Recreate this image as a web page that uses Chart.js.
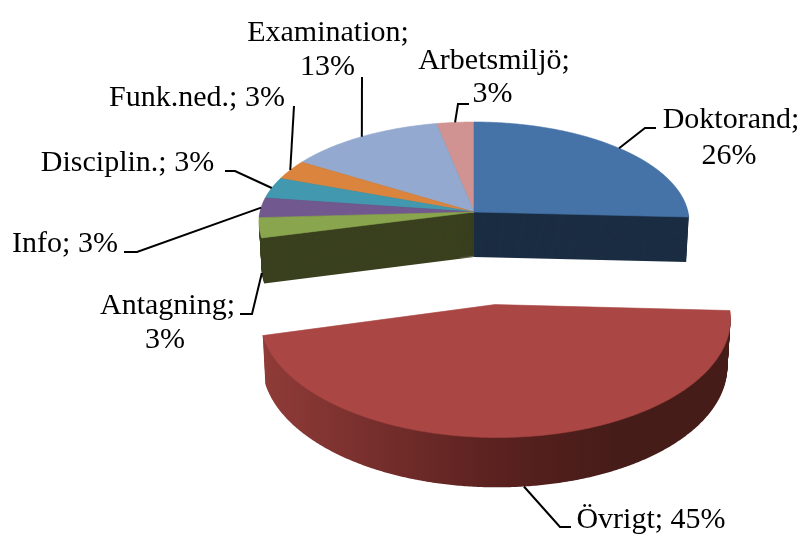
<!DOCTYPE html>
<html lang="sv">
<head>
  <meta charset="UTF-8" />
  <title>Ärenden</title>
  <style>
    html, body { margin: 0; background: #ffffff; }
    #wrap { width: 805px; height: 534px; }
  </style>
</head>
<body>
  <div id="wrap"><canvas id="pie" width="805" height="534"></canvas></div>

  <script src="https://cdn.jsdelivr.net/npm/chart.js@4"></script>
  <script>
    // Data (slice sizes estimated, the labels round them)
    const categories = ['Doktorand', 'Övrigt', 'Antagning', 'Info', 'Disciplin.', 'Funk.ned.', 'Examination', 'Arbetsmiljö'];
    const shares = [25.8, 45.1, 3.2, 3.2, 3.4, 3.2, 13.0, 3.1];
    const percentLabels = ['26%', '45%', '3%', '3%', '3%', '3%', '13%', '3%'];
    const explode = [0, 184, 0, 0, 0, 0, 0, 0];

    const colors = ['#4572A7', '#AA4643', '#89A54E', '#71588F', '#4198AF', '#DB843D', '#93A9CF', '#D19392'];
    // only the Doktorand, Antagning and Övrigt walls can be seen
    const wallColors = ['#1B2D42', '#5A211F', '#3A401F', '#3A401F', '#3A401F', '#3A401F', '#3A401F', '#3A401F'];

    // Look of the tilted pie
    const TILT = 0.4626;
    const PERSPECTIVE = 0.1;
    const DEPTH = 45;
    const WALL_SHRINK = 0.012;

    // label placement: text lines (centre x, baseline y), leader bends, and
    // whether the leader starts at the bottom of the wall
    const labelLayout = [
      { lines: [[categories[0] + ';', 731, 128], [percentLabels[0], 729, 164]], bends: [[645, 128], [656, 128]], low: false },
      { lines: [[categories[1] + '; ' + percentLabels[1], 651, 528]], bends: [[560, 527], [571, 527]], low: true },
      { lines: [[categories[2] + ';', 167.5, 314], [percentLabels[2], 165, 348]], bends: [[252, 314], [240, 314]], low: true },
      { lines: [[categories[3] + '; ' + percentLabels[3], 65, 252]], bends: [[137, 252], [124, 252]], low: false },
      { lines: [[categories[4] + '; ' + percentLabels[4], 127.5, 171]], bends: [[235, 171], [225, 171]], low: false },
      { lines: [[categories[5] + '; ' + percentLabels[5], 197, 105.5]], bends: [[294, 106]], low: false },
      { lines: [[categories[6] + ';', 328, 41], [percentLabels[6], 327.5, 75]], bends: [[362, 77]], low: false },
      { lines: [[categories[7] + ';', 494, 69], [percentLabels[7], 492.5, 102]], bends: [[458, 104], [469, 104]], low: false }
    ];

    // Map an angle on a slice's rim to the screen, d = how far down the wall
    function project(arc, angle, atRim, d) {
      const R = arc.outerRadius;
      const mid = (arc.startAngle + arc.endAngle) / 2;
      const off = (arc.options.offset || 0) / R;
      const dx = off * Math.cos(mid) + (atRim ? Math.cos(angle) : 0);
      const dv = off * Math.sin(mid) + (atRim ? Math.sin(angle) : 0);
      const s = 1 / (1 - PERSPECTIVE * dv);
      const shrink = 1 - WALL_SHRINK * d / DEPTH;
      return {
        x: arc.x + R * dx * s * shrink,
        y: arc.y + R * TILT * dv * s + d * Math.sqrt(s)
      };
    }

    function slicePath(ctx, arc, d) {
      const apex = project(arc, 0, false, d);
      const steps = Math.ceil((arc.endAngle - arc.startAngle) * 120);
      ctx.beginPath();
      ctx.moveTo(apex.x, apex.y);
      for (let i = 0; i <= steps; i++) {
        const t = arc.startAngle + (arc.endAngle - arc.startAngle) * i / steps;
        const p = project(arc, t, true, d);
        ctx.lineTo(p.x, p.y);
      }
      ctx.closePath();
    }

    function drawWall(ctx, arc, index) {
      let wall = wallColors[index];
      if (explode[index] > 0) {
        // the big slice has a shaded outer wall
        wall = ctx.createLinearGradient(265, 0, 730, 0);
        wall.addColorStop(0, '#8F3B38');
        wall.addColorStop(0.5, '#5A211F');
        wall.addColorStop(0.75, '#461C19');
        wall.addColorStop(1, '#461C19');
      }
      ctx.fillStyle = wall;
      for (let d = DEPTH; d > 0; d--) {
        slicePath(ctx, arc, d);
        ctx.fill();
      }
    }

    function drawTop(ctx, arc, index) {
      ctx.fillStyle = colors[index];
      ctx.strokeStyle = colors[index];
      ctx.lineWidth = 0.6;
      slicePath(ctx, arc, 0);
      ctx.fill();
      ctx.stroke();
    }

    const pie3d = {
      id: 'pie3d',
      beforeDatasetsDraw(chart) {
        const ctx = chart.ctx;
        const arcs = chart.getDatasetMeta(0).data;
        ctx.save();
        // far slices first, then the two facing the gap, the exploded one last
        [7, 6, 5, 4, 3, 2, 0].forEach(i => drawWall(ctx, arcs[i], i));
        [7, 6, 5, 4, 3, 2, 0].forEach(i => drawTop(ctx, arcs[i], i));
        drawWall(ctx, arcs[1], 1);
        drawTop(ctx, arcs[1], 1);
        ctx.restore();
        return false;
      },
      afterDraw(chart) {
        const ctx = chart.ctx;
        const arcs = chart.getDatasetMeta(0).data;
        ctx.save();
        ctx.strokeStyle = '#000000';
        ctx.lineWidth = 2;
        labelLayout.forEach((label, i) => {
          const mid = (arcs[i].startAngle + arcs[i].endAngle) / 2;
          const from = project(arcs[i], mid, true, label.low ? DEPTH : 0);
          ctx.beginPath();
          ctx.moveTo(from.x, from.y);
          label.bends.forEach(b => ctx.lineTo(b[0], b[1]));
          ctx.stroke();
        });
        ctx.fillStyle = '#000000';
        ctx.font = '30px "Liberation Serif"';
        ctx.textAlign = 'center';
        ctx.textBaseline = 'alphabetic';
        labelLayout.forEach(label => {
          label.lines.forEach(l => ctx.fillText(l[0], l[1], l[2]));
        });
        ctx.restore();
      }
    };

    new Chart(document.getElementById('pie'), {
      type: 'pie',
      data: {
        labels: categories,
        datasets: [{
          data: shares,
          backgroundColor: colors,
          offset: explode,
          borderWidth: 0
        }]
      },
      options: {
        responsive: false,
        animation: false,
        radius: 214,
        layout: { padding: { left: 143, right: 0, top: 0, bottom: 110 } },
        plugins: { legend: { display: false }, tooltip: { enabled: false } }
      },
      plugins: [pie3d]
    });
  </script>
</body>
</html>
